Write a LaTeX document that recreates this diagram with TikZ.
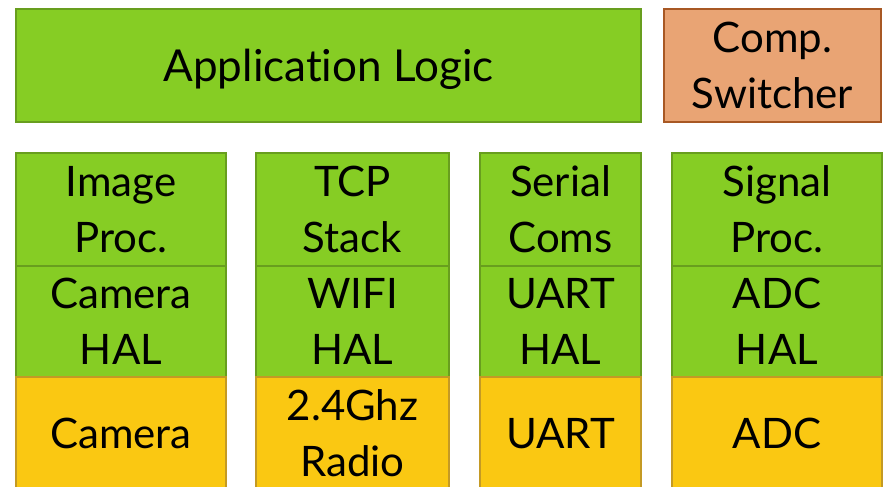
\documentclass[tikz,border=0pt]{standalone}
\usepackage{fontspec}
\setmainfont{Lato}[Ligatures={NoCommon,NoRare}]
\definecolor{swgreen}{RGB}{134,205,36}
\definecolor{swgreenedge}{RGB}{104,158,30}
\definecolor{hwyellow}{RGB}{250,200,18}
\definecolor{hwyellowedge}{RGB}{196,154,36}
\definecolor{switchfill}{RGB}{233,164,116}
\definecolor{switchedge}{RGB}{168,88,36}
\tikzset{
  layer/.style={rectangle, draw, line width=1.5pt, inner sep=0pt, align=center,
    font=\fontsize{42}{56}\selectfont},
  softlayer/.style={layer, fill=swgreen, draw=swgreenedge},
  hardlayer/.style={layer, fill=hwyellow, draw=hwyellowedge},
  switchlayer/.style={layer, fill=switchfill, draw=switchedge},
  oneline/.style={text depth=0pt},
}
\begin{document}
\begin{tikzpicture}[x=1pt, y=-1pt]
  \useasboundingbox (0,0) rectangle (884,487);
  \clip (0,0) rectangle (884,487);
  % top row
  \node[softlayer, oneline, font=\fontsize{44}{56}\selectfont, minimum width=625pt, minimum height=113pt] (app) at (328.5,65.5) {Application Logic};
  \node[switchlayer, minimum width=217pt, minimum height=113pt] (switch) at (772.5,65.5) {Comp.\\Switcher};
  % column 1
  \node[softlayer, minimum width=210pt, minimum height=113pt] (img) at (121,209.5) {Image\\Proc.};
  \node[softlayer, minimum width=210pt, minimum height=111pt] (camhal) at (121,321.5) {Camera\\HAL};
  \node[hardlayer, oneline, minimum width=210pt, minimum height=113pt] (cam) at (121,433.5) {Camera};
  % column 2
  \node[softlayer, minimum width=193pt, minimum height=113pt] (tcp) at (352.5,209.5) {TCP\\Stack};
  \node[softlayer, minimum width=193pt, minimum height=111pt] (wifihal) at (352.5,321.5) {WIFI\\HAL};
  \node[hardlayer, minimum width=193pt, minimum height=113pt] (radio) at (352.5,433.5) {2.4Ghz\\Radio};
  % column 3
  \node[softlayer, minimum width=161pt, minimum height=113pt] (serial) at (560.5,209.5) {Serial\\Coms};
  \node[softlayer, minimum width=161pt, minimum height=111pt] (uarthal) at (560.5,321.5) {UART\\HAL};
  \node[hardlayer, oneline, minimum width=161pt, minimum height=113pt] (uart) at (560.5,433.5) {UART};
  % column 4
  \node[softlayer, minimum width=210pt, minimum height=113pt] (sig) at (777,209.5) {Signal\\Proc.};
  \node[softlayer, minimum width=210pt, minimum height=111pt] (adchal) at (777,321.5) {ADC\\HAL};
  \node[hardlayer, oneline, minimum width=210pt, minimum height=113pt] (adc) at (777,433.5) {ADC};
\end{tikzpicture}
\end{document}
